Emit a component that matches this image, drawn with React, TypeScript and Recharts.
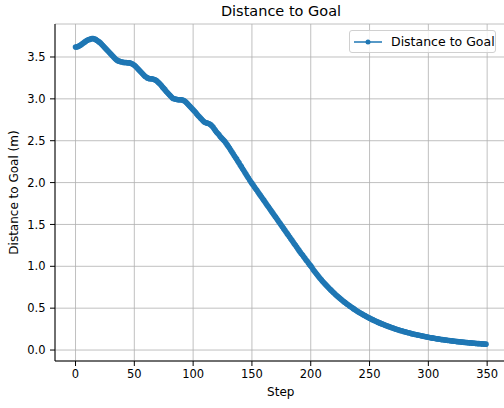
import { LineChart, Line, XAxis, YAxis, CartesianGrid } from "recharts";

// distance to goal per step (steps 0-349)
const approachPhase = [
  3.62, 3.62, 3.625, 3.63, 3.64,
  3.65, 3.66, 3.67, 3.68, 3.69, 3.7, 3.705, 3.71, 3.715, 3.72,
  3.72, 3.715, 3.71, 3.7, 3.69, 3.68,
  3.67, 3.655, 3.64, 3.625, 3.61, 3.595, 3.58, 3.565, 3.55, 3.535, 3.52,
  3.505, 3.49, 3.475, 3.465, 3.455, 3.45, 3.445, 3.44,
  3.44, 3.435, 3.435, 3.435, 3.43, 3.43, 3.43, 3.425, 3.42, 3.41,
  3.4, 3.39, 3.375, 3.36, 3.345, 3.33, 3.315, 3.3, 3.285, 3.27, 3.26, 3.25,
  3.245, 3.24, 3.24, 3.24, 3.235, 3.23, 3.225, 3.215,
  3.2, 3.19, 3.175, 3.16, 3.14, 3.125, 3.11, 3.09, 3.075, 3.06, 3.045, 3.03, 3.015, 3.005,
  3.0, 2.995, 2.995, 2.99, 2.99, 2.99, 2.99, 2.985, 2.98, 2.97,
  2.96, 2.945, 2.93, 2.915, 2.9, 2.885, 2.87, 2.855, 2.84, 2.82, 2.805, 2.79, 2.775, 2.76, 2.745, 2.73,
  2.72, 2.715, 2.71, 2.705, 2.7, 2.69,
];

const descentPhase = [
  2.675, 2.66, 2.64, 2.62, 2.6, 2.585, 2.57, 2.55, 2.535, 2.52, 2.505, 2.49,
  2.47, 2.45, 2.43, 2.41, 2.385, 2.365, 2.345, 2.32, 2.3, 2.28,
  2.255, 2.235, 2.21, 2.19, 2.165, 2.145, 2.12, 2.1, 2.075, 2.055, 2.03,
  2.01, 1.99, 1.97, 1.95, 1.93, 1.91, 1.89, 1.87, 1.85, 1.83, 1.81, 1.79, 1.77,
  1.75, 1.73, 1.71, 1.69, 1.67, 1.65, 1.63, 1.61, 1.59, 1.57, 1.55, 1.53, 1.51,
  1.49, 1.47, 1.45, 1.43, 1.41, 1.39, 1.37, 1.35, 1.33, 1.31, 1.29, 1.27, 1.25,
  1.23, 1.21, 1.19, 1.17, 1.15, 1.135, 1.115, 1.095, 1.075, 1.06, 1.04, 1.02, 1.005, 0.985,
];

const settlePhase = [
  0.962, 0.943, 0.925, 0.907, 0.889, 0.872, 0.855, 0.839,
  0.822, 0.807, 0.791, 0.776, 0.761, 0.746, 0.732, 0.718, 0.704, 0.69,
  0.677, 0.664, 0.651, 0.639, 0.626, 0.614, 0.603, 0.591, 0.58, 0.569,
  0.558, 0.547, 0.537, 0.527, 0.516, 0.507, 0.497, 0.488, 0.478, 0.469,
  0.46, 0.452, 0.443, 0.435, 0.426, 0.418, 0.411, 0.403, 0.395, 0.388,
  0.381, 0.373, 0.366, 0.36, 0.353, 0.346, 0.34, 0.333, 0.327, 0.321,
  0.315, 0.309, 0.304, 0.298, 0.293, 0.287, 0.282, 0.277, 0.272, 0.267,
  0.262, 0.257, 0.252, 0.248, 0.243, 0.239, 0.234, 0.23, 0.226, 0.222,
  0.218, 0.214, 0.21, 0.206, 0.203, 0.199, 0.195, 0.192, 0.189, 0.185,
  0.182, 0.179, 0.176, 0.173, 0.17, 0.167, 0.164, 0.161, 0.158, 0.155,
  0.153, 0.15, 0.147, 0.145, 0.142, 0.14, 0.138, 0.135, 0.133, 0.131,
  0.129, 0.126, 0.124, 0.122, 0.12, 0.118, 0.116, 0.114, 0.113, 0.111,
  0.109, 0.107, 0.105, 0.104, 0.102, 0.1, 0.099, 0.097, 0.096, 0.094,
  0.093, 0.091, 0.09, 0.089, 0.087, 0.086, 0.085, 0.083, 0.082, 0.081,
  0.08, 0.078, 0.077, 0.076, 0.075, 0.074, 0.073, 0.072, 0.071, 0.07,
];

const stepTicks = [0, 50, 100, 150, 200, 250, 300, 350];
const distanceTicks = [0, 0.5, 1, 1.5, 2, 2.5, 3, 3.5];

const data = [...approachPhase, ...descentPhase, ...settlePhase].map((d, i) => ({
  step: i,
  distance: d,
}));

const FONT = "'DejaVu Sans', sans-serif";
const BLUE = "#1f77b4";

// matplotlib-style legend box, drawn over the plot's upper right corner
function LegendBox() {
  return (
    <div
      style={{
        position: "absolute",
        left: 349,
        top: 30,
        width: 147,
        height: 23,
        boxSizing: "border-box",
        border: "1px solid #d0d0d0",
        borderRadius: 3,
        background: "rgba(255,255,255,0.8)",
        display: "flex",
        alignItems: "center",
        fontFamily: FONT,
        fontSize: 12.5,
        color: "#000",
      }}
    >
      <svg width={38} height={10} style={{ marginLeft: 3 }}>
        <line x1={1} y1={5} x2={29} y2={5} stroke={BLUE} strokeWidth={1.5} />
        <circle cx={15} cy={5} r={2.5} fill={BLUE} />
      </svg>
      <span>Distance to Goal</span>
    </div>
  );
}

export default function App() {
  return (
    <div style={{ position: "fixed", left: 0, top: 0, width: 504, height: 408, overflow: "hidden", background: "#fff" }}>
      <LineChart
        width={512}
        height={408}
        data={data}
        margin={{ top: 24, right: 5.5, left: 1, bottom: 0 }}
      >
        <CartesianGrid stroke="#b0b0b0" strokeWidth={0.8} />
        <XAxis
          dataKey="step"
          type="number"
          domain={[-17.45, 366.45]}
          ticks={stepTicks}
          allowDataOverflow
          height={47}
          tickSize={5}
          tickMargin={4}
          stroke="#000"
          tick={{ fontSize: 11.5, fill: "#000", fontFamily: FONT }}
          label={{ value: "Step", position: "insideBottom", offset: 12, fontSize: 12, fill: "#000", fontFamily: FONT }}
        />
        <XAxis
          xAxisId="top"
          orientation="top"
          type="number"
          domain={[-17.45, 366.45]}
          height={0}
          tick={false}
          tickLine={false}
          stroke="#000"
        />
        <YAxis
          type="number"
          domain={[-0.131, 3.894]}
          ticks={distanceTicks}
          allowDataOverflow
          width={54}
          tickSize={5}
          tickMargin={4.5}
          stroke="#000"
          tickFormatter={(v) => Number(v).toFixed(1)}
          tick={{ fontSize: 11.5, fill: "#000", fontFamily: FONT }}
          label={{
            value: "Distance to Goal (m)",
            angle: -90,
            position: "insideLeft",
            offset: 13,
            fontSize: 12,
            fill: "#000",
            fontFamily: FONT,
            style: { textAnchor: "middle" },
          }}
        />
        <Line
          type="linear"
          dataKey="distance"
          name="Distance to Goal"
          stroke={BLUE}
          strokeWidth={1.5}
          dot={{ r: 2.8, fill: BLUE, stroke: "none" }}
          activeDot={false}
          isAnimationActive={false}
        />
      </LineChart>
      <svg width={504} height={24} style={{ position: "absolute", left: 0, top: 0 }}>
        <text x={281} y={15.5} textAnchor="middle" fontFamily={FONT} fontSize={14.5} fill="#000">
          Distance to Goal
        </text>
      </svg>
      <LegendBox />
    </div>
  );
}
